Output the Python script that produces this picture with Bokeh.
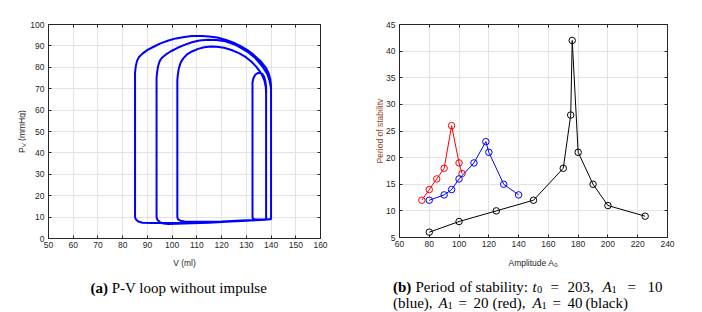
import math
from bokeh.plotting import figure
from bokeh.models import Label, LinearAxis, FixedTicker, Range1d
from bokeh.layouts import row, column
from bokeh.embed import file_html
from bokeh.resources import INLINE

# ---------------- data: P-V loop ----------------
# small loop at start + first filling
seg1_v = [138.0, 138.0, 137.7, 137.2, 136.5, 135.6, 134.6, 133.6, 132.9, 132.5, 132.5, 132.7, 133.5, 136.0, 140.0]
seg1_p = [67.0, 71.0, 73.5, 75.6, 76.9, 77.4, 77.3, 76.5, 75.0, 73.0, 10.0, 9.2, 8.9, 8.9, 9.0]
# outer loop: contraction at 140, ejection arc, relaxation at 85, filling
seg2_v = [140.0, 140.0, 139.7, 139.0, 137.8, 135.7, 133.0, 130.3, 127.5, 124.9, 121.5, 118.2, 115.0, 112.0,
          108.0, 105.0, 101.5, 98.5, 95.3, 92.5, 89.9, 88.0, 86.6, 85.8, 85.3, 85.0,
          85.0, 85.3, 86.3, 88.0, 92.0, 100.0, 110.0, 120.0, 130.0, 136.0, 140.0]
seg2_p = [9.0, 71.5, 74.5, 77.3, 80.0, 83.0, 85.8, 88.2, 90.0, 91.5, 92.9, 93.9, 94.4, 94.6,
          94.6, 94.2, 93.5, 92.5, 91.2, 89.6, 88.0, 86.4, 84.8, 83.0, 80.5, 77.5,
          10.0, 9.0, 7.9, 7.4, 7.2, 7.3, 7.5, 7.8, 8.3, 8.7, 9.1]
# second loop
seg3_v = [140.0, 140.0, 139.7, 139.3, 138.5, 137.0, 135.4, 133.6, 131.0, 128.0, 125.0, 121.5, 118.0, 114.5,
          111.0, 108.0, 105.0, 102.0, 99.5, 97.5, 96.0, 95.0, 94.3, 93.9, 93.7,
          93.7, 94.0, 95.0, 96.5, 98.5, 102.0, 108.0, 115.0, 122.0, 130.0, 135.0, 138.0]
seg3_p = [9.1, 70.0, 72.0, 74.0, 76.8, 79.6, 82.0, 84.3, 86.8, 89.0, 90.8, 92.2, 92.8, 92.9,
          92.5, 91.7, 90.5, 89.0, 87.5, 86.0, 84.6, 83.0, 80.5, 77.5, 75.0,
          10.0, 8.8, 7.6, 7.0, 6.8, 6.9, 7.1, 7.4, 7.8, 8.3, 8.6, 8.8]
# third loop
seg4_v = [138.0, 138.0, 137.9, 137.4, 136.6, 135.5, 134.0, 132.0, 129.5, 127.0, 124.0, 121.0, 118.0, 115.5,
          113.0, 110.5, 108.0, 106.0, 104.6, 103.5, 102.7, 102.3, 102.1,
          102.1, 102.4, 103.3, 105.0, 108.0, 112.0, 120.0, 128.0, 134.0, 140.0]
seg4_p = [8.8, 67.6, 70.5, 73.5, 75.8, 78.0, 80.3, 82.7, 85.0, 86.6, 88.1, 89.1, 89.6, 89.7,
          89.4, 88.6, 87.4, 86.0, 84.3, 82.3, 79.5, 76.5, 74.0,
          10.0, 8.9, 8.3, 8.0, 7.8, 7.8, 8.0, 8.4, 8.7, 9.0]

pv_xticks = [50, 60, 70, 80, 90, 100, 110, 120, 130, 140, 150, 160]
pv_yticks = [0, 10, 20, 30, 40, 50, 60, 70, 80, 90, 100]

# ---------------- data: period of stability ----------------
red_a0 = [75, 80, 85, 90, 95, 100, 102]
red_per = [12, 14, 16, 18, 26, 19, 17]
blue_a0 = [80, 90, 95, 100, 110, 118, 120, 130, 140]
blue_per = [12, 13, 14, 16, 19, 23, 21, 15, 13]
black_a0 = [80, 100, 125, 150, 170, 175, 176, 180, 190, 200, 225]
black_per = [6, 8, 10, 12, 18, 28, 42, 21, 15, 11, 9]

ps_xticks = [60, 80, 100, 120, 140, 160, 180, 200, 220, 240]
ps_yticks = [5, 10, 15, 20, 25, 30, 35, 40, 45]

SANS = "Liberation Sans"
SERIF = "Liberation Serif"
DARK = "#262626"
TICK_FS = "8.5px"
R90 = math.pi / 2


def style(p, xt, yt):
    p.outline_line_color = DARK
    p.outline_line_width = 1
    p.xgrid.ticker = FixedTicker(ticks=xt)
    p.ygrid.ticker = FixedTicker(ticks=yt)
    for g in (p.xgrid, p.ygrid):
        g.grid_line_color = "#e3e3e3"
        g.grid_line_width = 1
    for ax, t in ((p.xaxis[0], xt), (p.yaxis[0], yt)):
        ax.ticker = FixedTicker(ticks=t)
        ax.major_tick_in = 3
        ax.major_tick_out = 0
        ax.minor_tick_line_color = None
        ax.axis_line_color = DARK
        ax.major_tick_line_color = DARK
        ax.major_label_text_font = SANS
        ax.major_label_text_font_size = TICK_FS
        ax.major_label_text_color = DARK
    p.xaxis[0].major_label_standoff = 3
    p.yaxis[0].major_label_standoff = 4
    for loc, t in (("above", xt), ("right", yt)):
        ax = LinearAxis(ticker=FixedTicker(ticks=t), major_tick_in=3, major_tick_out=0,
                        minor_tick_line_color=None, axis_line_color=DARK,
                        major_tick_line_color=DARK, major_label_text_color=None,
                        major_label_text_font_size="1px", major_label_standoff=0)
        p.add_layout(ax, loc)


def blank(w, h):
    f = figure(width=w, height=h, output_backend="svg", toolbar_location=None,
               x_range=Range1d(0, w), y_range=Range1d(0, h), min_border=0,
               x_axis_type=None, y_axis_type=None)
    f.outline_line_color = None
    return f


def lab(p, text, x, y, font=SANS, size=TICK_FS, color=DARK, style_="normal", align="left", angle=0.0):
    p.add_layout(Label(x=x, y=y, x_units="screen", y_units="screen", text=text,
                       text_font=font, text_font_size=size, text_color=color,
                       text_font_style=style_, text_align=align, text_baseline="alphabetic",
                       angle=angle))


# page geometry: left column x 0..351, right column x 351..702; charts y 0..252, captions 252..312
TOP_H = 252
CAP_H = 60

# ---------------- left figure ----------------
p1 = figure(width=325, height=TOP_H, output_backend="svg", toolbar_location=None,
            x_range=Range1d(50, 160), y_range=Range1d(0, 100),
            min_border_left=22, min_border_right=31, min_border_top=24, min_border_bottom=14)
style(p1, pv_xticks, pv_yticks)
pv_v = seg1_v + seg2_v + seg3_v + seg4_v
pv_p = seg1_p + seg2_p + seg3_p + seg4_p
p1.line(pv_v, pv_p, line_color="#0000ff", line_width=2)

yl1 = blank(26, TOP_H)           # page x 0..26
LY = 14                          # empirical shift of rotated labels
lab(yl1, "P", 21.5, TOP_H - 152.4 - LY, angle=R90)
lab(yl1, "V", 23.6, TOP_H - 146.7 - LY, size="6px", angle=R90)
lab(yl1, "(mmHg)", 21.5, TOP_H - 140.4 - LY, angle=R90)

c1 = blank(351, CAP_H)           # page y 252..312
lab(c1, "V (ml)", 184, 312 - 262, align="center")
lab(c1, "(a)", 90, 312 - 287, font=SERIF, size="15px", color="black", style_="bold")
lab(c1, "P-V loop without impulse", 111.2, 312 - 287, font=SERIF, size="15px", color="black")

# ---------------- right figure ----------------
p2 = figure(width=319, height=TOP_H, output_backend="svg", toolbar_location=None,
            x_range=Range1d(60, 240), y_range=Range1d(5, 45),
            min_border_left=15, min_border_right=35, min_border_top=24, min_border_bottom=15)
style(p2, ps_xticks, ps_yticks)
for xs, ys, c in ((red_a0, red_per, "#ff0000"), (blue_a0, blue_per, "#0000ff"),
                  (black_a0, black_per, "#000000")):
    p2.line(xs, ys, line_color=c, line_width=1)
    p2.scatter(xs, ys, marker="circle", size=6.5, fill_color=None, line_color=c, line_width=1)

yl2 = blank(32, TOP_H)           # page x 351..383
lab(yl2, "Period of stability", 28, TOP_H - 163.9 - LY, color="#8a4526", angle=R90)

c2 = blank(351, CAP_H)           # page x 351..702, y 252..312
X0 = 351
lab(c2, "Amplitude A", 508 - X0, 312 - 262)
lab(c2, "0", 553.8 - X0, 312 - 264.5, size="6px")

cap_l1 = [("(b)", 392.5, "bold"), ("Period", 415, "normal"), ("of", 459, "normal"),
          ("stability:", 475, "normal"), ("t", 532, "italic"), ("0", 536.6, "sub"),
          ("=", 550, "normal"), ("203,", 567, "normal"), ("A", 602, "italic"),
          ("1", 611, "sub"), ("=", 627, "normal"), ("10", 647, "normal")]
cap_l2 = [("(blue),", 392.5, "normal"), ("A", 438, "italic"), ("1", 447, "sub"),
          ("=", 458, "normal"), ("20", 473, "normal"), ("(red),", 492, "normal"),
          ("A", 532, "italic"), ("1", 541, "sub"), ("=", 552, "normal"),
          ("40", 567, "normal"), ("(black)", 585, "normal")]
for line, yb in ((cap_l1, 286), (cap_l2, 302)):
    for txt, px, st in line:
        if st == "sub":
            lab(c2, txt, px - X0, 312 - yb - 3, font=SERIF, size="10.5px", color="black")
        else:
            lab(c2, txt, px - X0, 312 - yb, font=SERIF, size="15px", color="black", style_=st)

layout = row(column(row(yl1, p1), c1), column(row(yl2, p2), c2))
open("out.html", "w").write(file_html(layout, INLINE))
